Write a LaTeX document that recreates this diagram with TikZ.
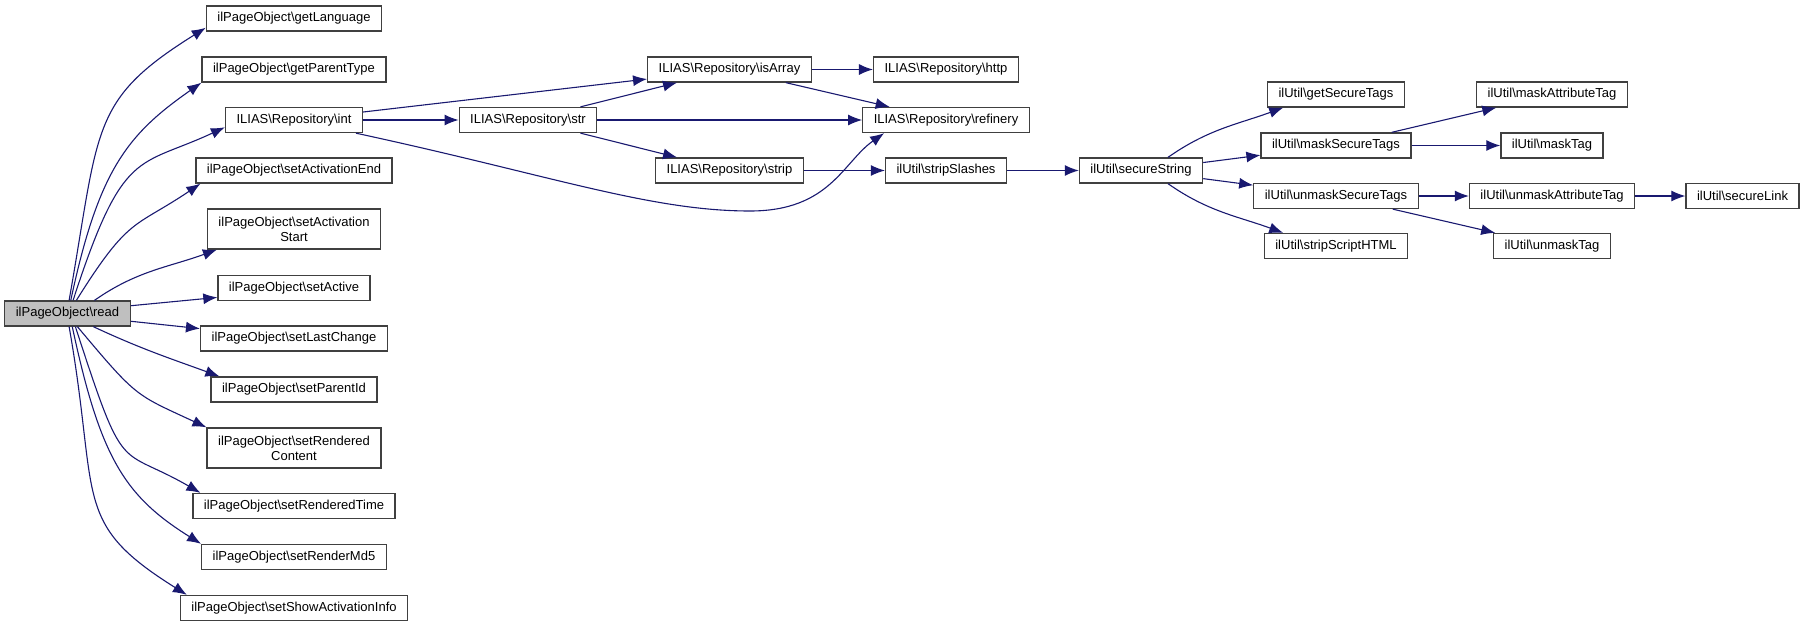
\documentclass[tikz,border=0pt]{standalone}
\usepackage{fontspec}
\setmainfont{Liberation Sans}
\usetikzlibrary{arrows.meta}
\definecolor{edgeblue}{HTML}{191970}
\definecolor{readgray}{HTML}{BFBFBF}
\newcommand{\bksl}{\textbackslash}

\begin{document}
\begin{tikzpicture}[
        x=1pt, y=1pt,
        fn/.style={draw=black!75, fill=white, line width=1.3pt, font=\fontsize{13}{15}\selectfont,
            inner xsep=11pt, inner ysep=5pt, minimum height=25pt, align=center},
        tall/.style={minimum height=40pt},
        callto/.style={-{Latex[length=14pt,width=11pt]}, edgeblue, line width=1.1pt}
    ]
        \useasboundingbox (0,0) rectangle (1805,-627);

        % caller
        \node[fn, fill=readgray] (read) at (67.5,-313.5) {ilPageObject\bksl read};

        % first column
        \node[fn] (getlang) at (294,-18.5) {ilPageObject\bksl getLanguage};
        \node[fn] (ptype) at (294,-69.5) {ilPageObject\bksl getParentType};
        \node[fn] (int) at (294,-120) {ILIAS\bksl Repository\bksl int};
        \node[fn] (actend) at (294,-170.5) {ilPageObject\bksl setActivationEnd};
        \node[fn, tall] (actstart) at (294,-229) {ilPageObject\bksl setActivation\\Start};
        \node[fn] (active) at (294,-288) {ilPageObject\bksl setActive};
        \node[fn] (lastchg) at (294,-338.5) {ilPageObject\bksl setLastChange};
        \node[fn] (parentid) at (294,-389.5) {ilPageObject\bksl setParentId};
        \node[fn, tall] (rcontent) at (294,-448) {ilPageObject\bksl setRendered\\Content};
        \node[fn] (rtime) at (294,-506) {ilPageObject\bksl setRenderedTime};
        \node[fn] (md5) at (294,-557) {ilPageObject\bksl setRenderMd5};
        \node[fn] (showinfo) at (294,-608) {ilPageObject\bksl setShowActivationInfo};

        % repository calls
        \node[fn] (str) at (528,-120) {ILIAS\bksl Repository\bksl str};
        \node[fn] (isarray) at (729.5,-69.5) {ILIAS\bksl Repository\bksl isArray};
        \node[fn] (strip) at (729.5,-170.5) {ILIAS\bksl Repository\bksl strip};
        \node[fn] (http) at (946,-69.5) {ILIAS\bksl Repository\bksl http};
        \node[fn] (refinery) at (946,-120) {ILIAS\bksl Repository\bksl refinery};
        \node[fn] (slashes) at (946,-170.5) {ilUtil\bksl stripSlashes};

        % ilUtil calls
        \node[fn] (secstr) at (1141,-170.5) {ilUtil\bksl secureString};
        \node[fn] (gettags) at (1336,-94.5) {ilUtil\bksl getSecureTags};
        \node[fn] (masktags) at (1336,-145.5) {ilUtil\bksl maskSecureTags};
        \node[fn] (unmasktags) at (1336,-196) {ilUtil\bksl unmaskSecureTags};
        \node[fn] (striphtml) at (1336,-246) {ilUtil\bksl stripScriptHTML};
        \node[fn] (maskattr) at (1552,-94.5) {ilUtil\bksl maskAttributeTag};
        \node[fn] (masktag) at (1552,-145.5) {ilUtil\bksl maskTag};
        \node[fn] (unmaskattr) at (1552,-196) {ilUtil\bksl unmaskAttributeTag};
        \node[fn] (unmasktag) at (1552,-246) {ilUtil\bksl unmaskTag};
        \node[fn] (seclink) at (1742.5,-196) {ilUtil\bksl secureLink};

        % fan out of read
        \draw[callto] (read.83) to[out=80,in=212,out distance=176pt,in distance=137pt] (getlang.186);
        \draw[callto] (read.76) to[out=78,in=215,out distance=134pt,in distance=90pt] (ptype.south west);
        \draw[callto] (read.67) to[out=72,in=205,out distance=162pt,in distance=96pt] (int.186);
        \draw[callto] (read.56) to[out=58,in=214,out distance=100pt,in distance=80pt] (actend.188);
        \draw[callto] (read.26) to[out=35,in=200] (actstart.195);
        \draw[callto] (read.7) -- (active.187);
        \draw[callto] (read.-7) -- (lastchg.174);
        \draw[callto] (read.-27) to[out=-25,in=160] (parentid.170);
        \draw[callto] (read.-53) to[out=-50,in=155,out distance=94pt,in distance=79pt] (rcontent.north west);
        \draw[callto] (read.-59) to[out=-72,in=150,out distance=162pt,in distance=96pt] (rtime.172);
        \draw[callto] (read.-70) to[out=-78,in=148,out distance=134pt,in distance=90pt] (md5.north west);
        \draw[callto] (read.-83) to[out=-80,in=148,out distance=176pt,in distance=137pt] (showinfo.173);

        % repository
        \draw[callto] (int) -- (isarray);
        \draw[callto] (int) -- (str);
        \draw[callto] (int.-12) .. controls (550,-175) and (650,-211) .. (750,-211)
            .. controls (830,-211) and (843,-162) .. (refinery.192);
        \draw[callto] (str) -- (isarray);
        \draw[callto] (str) -- (refinery);
        \draw[callto] (str) -- (strip);
        \draw[callto] (isarray) -- (http);
        \draw[callto] (isarray) -- (refinery);
        \draw[callto] (strip) -- (slashes);
        \draw[callto] (slashes) -- (secstr);

        % ilUtil
        \draw[callto] (secstr.26) to[out=35,in=200] (gettags.194);
        \draw[callto] (secstr) -- (masktags);
        \draw[callto] (secstr) -- (unmasktags);
        \draw[callto] (secstr.-26) to[out=-35,in=160] (striphtml.166);
        \draw[callto] (masktags) -- (maskattr);
        \draw[callto] (masktags) -- (masktag);
        \draw[callto] (unmasktags) -- (unmaskattr);
        \draw[callto] (unmasktags) -- (unmasktag);
        \draw[callto] (unmaskattr) -- (seclink);
\end{tikzpicture}
\end{document}
